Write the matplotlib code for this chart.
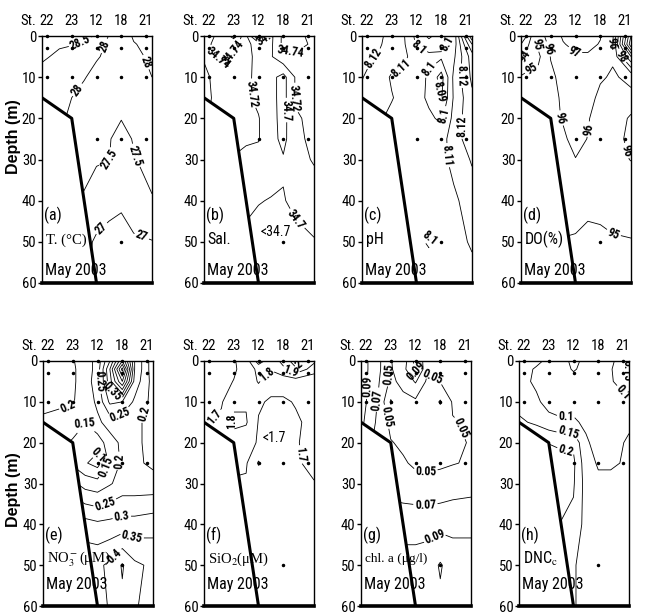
import numpy as np
import matplotlib
matplotlib.use('Agg')
from matplotlib import pyplot as plt
from matplotlib.patches import Polygon

plt.rcParams['font.family'] = ['Roboto Condensed', 'Liberation Sans', 'DejaVu Sans']
plt.rcParams['mathtext.fontset'] = 'stix'

stations = ['22', '23', '12', '18', '21']
station_x = [0, 1, 2, 3, 4]

# sampling points (station index, depth m)
sample_x = [0, 1, 2, 3, 4, 0, 1, 2, 3, 4, 0, 1, 2, 3, 4, 2, 3, 4, 3]
sample_depth = [0, 0, 0, 0, 0, 3, 3, 3, 3, 3, 10, 10, 10, 10, 10, 25, 25, 25, 50]

# sea bottom
bottom_x = [-0.2, 1, 2]
bottom_depth = [15, 20, 60]

# gridded fields
x_grid = [-0.2, 0.5, 1, 1.5, 2, 2.5, 3, 3.5, 4.24]
depth_grid = [0, 2, 5, 10, 15, 20, 25, 30, 40, 50, 60]

temp_grid = [
    [28.55, 28.6, 28.6, 28.56, 28.48, 27.98, 27.9, 28.02, 28.1],
    [28.56, 28.53, 28.52, 28.45, 28.1, 27.95, 27.9, 27.99, 28.05],
    [28.54, 28.45, 28.35, 28.2, 28.03, 27.93, 27.88, 27.96, 28.03],
    [28.4, 28.3, 28.2, 28.02, 27.9, 27.85, 27.82, 27.88, 28.0],
    [28.3, 28.15, 28.0, 27.9, 27.8, 27.75, 27.72, 27.75, 27.85],
    [28.2, 28.05, 27.95, 27.8, 27.65, 27.56, 27.51, 27.55, 27.7],
    [28.1, 27.95, 27.85, 27.7, 27.6, 27.52, 27.4, 27.52, 27.6],
    [28.0, 27.9, 27.75, 27.65, 27.56, 27.51, 27.3, 27.48, 27.6],
    [27.9, 27.7, 27.55, 27.45, 27.2, 27.1, 27.05, 27.3, 27.48],
    [27.8, 27.6, 27.4, 27.1, 26.95, 26.9, 26.88, 26.92, 26.98],
    [27.7, 27.5, 27.3, 27.05, 26.9, 26.85, 26.85, 26.88, 26.95],
]
sal_grid = [
    [34.725, 34.75, 34.765, 34.725, 34.655, 34.715, 34.745, 34.75, 34.73],
    [34.73, 34.755, 34.75, 34.725, 34.712, 34.716, 34.745, 34.75, 34.735],
    [34.722, 34.745, 34.735, 34.725, 34.715, 34.718, 34.735, 34.735, 34.728],
    [34.715, 34.73, 34.73, 34.724, 34.715, 34.706, 34.693, 34.722, 34.725],
    [34.714, 34.728, 34.728, 34.723, 34.716, 34.706, 34.693, 34.722, 34.725],
    [34.718, 34.725, 34.726, 34.723, 34.721, 34.707, 34.693, 34.718, 34.724],
    [34.716, 34.724, 34.724, 34.722, 34.721, 34.708, 34.694, 34.716, 34.724],
    [34.714, 34.721, 34.719, 34.716, 34.714, 34.71, 34.702, 34.712, 34.722],
    [34.71, 34.712, 34.71, 34.705, 34.701, 34.699, 34.699, 34.704, 34.708],
    [34.705, 34.703, 34.701, 34.695, 34.692, 34.69, 34.69, 34.695, 34.699],
    [34.702, 34.698, 34.695, 34.69, 34.688, 34.686, 34.686, 34.69, 34.698],
]
ph_grid = [
    [8.125, 8.121, 8.118, 8.1105, 8.097, 8.088, 8.095, 8.102, 8.17],
    [8.124, 8.121, 8.116, 8.111, 8.099, 8.094, 8.097, 8.104, 8.15],
    [8.122, 8.119, 8.114, 8.112, 8.105, 8.103, 8.102, 8.108, 8.135],
    [8.1205, 8.114, 8.109, 8.108, 8.106, 8.098, 8.086, 8.112, 8.132],
    [8.118, 8.111, 8.1105, 8.107, 8.104, 8.098, 8.089, 8.111, 8.128],
    [8.116, 8.111, 8.108, 8.106, 8.104, 8.102, 8.098, 8.113, 8.128],
    [8.106, 8.106, 8.106, 8.105, 8.104, 8.103, 8.106, 8.115, 8.126],
    [8.105, 8.105, 8.105, 8.104, 8.104, 8.105, 8.107, 8.113, 8.121],
    [8.104, 8.104, 8.104, 8.103, 8.103, 8.104, 8.106, 8.108, 8.115],
    [8.102, 8.102, 8.102, 8.102, 8.101, 8.0995, 8.103, 8.107, 8.111],
    [8.101, 8.101, 8.101, 8.101, 8.101, 8.103, 8.102, 8.104, 8.107],
]
do_grid = [
    [91.8, 95.5, 96.5, 97.1, 97.4, 97.3, 97.05, 95.8, 103.0],
    [93.0, 95.2, 96.3, 96.95, 97.2, 97.2, 96.95, 95.9, 103.8],
    [93.8, 94.8, 96.05, 96.6, 96.9, 96.9, 96.8, 96.1, 100.0],
    [95.1, 95.3, 95.8, 96.3, 96.5, 96.4, 96.1, 95.9, 96.2],
    [95.5, 95.6, 95.8, 96.1, 96.4, 96.3, 95.8, 95.7, 95.8],
    [95.6, 95.7, 95.8, 96.05, 96.3, 96.05, 95.7, 95.8, 96.05],
    [95.6, 95.7, 95.8, 95.9, 96.2, 95.98, 95.7, 95.85, 96.1],
    [95.6, 95.6, 95.7, 95.8, 95.98, 95.9, 95.7, 95.8, 96.02],
    [95.4, 95.4, 95.4, 95.4, 95.4, 95.2, 95.25, 95.4, 95.5],
    [95.05, 95.05, 95.02, 94.95, 94.9, 94.8, 94.82, 94.9, 94.95],
    [94.8, 94.8, 94.8, 94.7, 94.7, 94.7, 94.7, 94.75, 94.8],
]
no3_grid = [
    [0.24, 0.23, 0.205, 0.17, 0.22, 0.35, 0.55, 0.3, 0.17],
    [0.24, 0.23, 0.21, 0.17, 0.22, 0.4, 0.67, 0.3, 0.17],
    [0.23, 0.22, 0.21, 0.17, 0.23, 0.38, 0.55, 0.28, 0.18],
    [0.215, 0.21, 0.205, 0.17, 0.21, 0.31, 0.3, 0.24, 0.185],
    [0.19, 0.18, 0.17, 0.152, 0.19, 0.22, 0.22, 0.21, 0.185],
    [0.17, 0.16, 0.145, 0.12, 0.12, 0.18, 0.21, 0.21, 0.185],
    [0.155, 0.155, 0.14, 0.105, 0.08, 0.16, 0.21, 0.21, 0.19],
    [0.21, 0.21, 0.21, 0.18, 0.17, 0.195, 0.22, 0.22, 0.22],
    [0.34, 0.34, 0.33, 0.32, 0.31, 0.315, 0.32, 0.32, 0.33],
    [0.41, 0.41, 0.405, 0.39, 0.39, 0.41, 0.455, 0.41, 0.39],
    [0.38, 0.38, 0.38, 0.38, 0.38, 0.405, 0.44, 0.405, 0.38],
]
sio2_grid = [
    [1.66, 1.67, 1.69, 1.75, 1.95, 1.84, 1.93, 2.06, 1.92],
    [1.66, 1.67, 1.69, 1.73, 1.83, 1.81, 1.88, 1.98, 1.85],
    [1.67, 1.68, 1.702, 1.72, 1.81, 1.73, 1.73, 1.74, 1.72],
    [1.68, 1.69, 1.78, 1.79, 1.71, 1.69, 1.69, 1.705, 1.72],
    [1.69, 1.72, 1.82, 1.81, 1.695, 1.68, 1.68, 1.69, 1.72],
    [1.705, 1.71, 1.76, 1.74, 1.69, 1.67, 1.68, 1.695, 1.72],
    [1.705, 1.705, 1.72, 1.71, 1.59, 1.67, 1.68, 1.695, 1.71],
    [1.69, 1.69, 1.69, 1.69, 1.68, 1.68, 1.68, 1.69, 1.698],
    [1.68, 1.68, 1.68, 1.68, 1.68, 1.68, 1.68, 1.68, 1.68],
    [1.67, 1.67, 1.67, 1.67, 1.67, 1.67, 1.67, 1.67, 1.67],
    [1.67, 1.67, 1.67, 1.67, 1.67, 1.67, 1.67, 1.67, 1.67],
]
chla_grid = [
    [0.1, 0.075, 0.049, 0.06, 0.095, 0.052, 0.058, 0.056, 0.055],
    [0.1, 0.075, 0.048, 0.062, 0.098, 0.052, 0.056, 0.056, 0.055],
    [0.1, 0.072, 0.046, 0.055, 0.072, 0.045, 0.051, 0.055, 0.055],
    [0.1, 0.068, 0.028, 0.045, 0.046, 0.045, 0.028, 0.052, 0.054],
    [0.095, 0.065, 0.045, 0.044, 0.045, 0.044, 0.044, 0.049, 0.052],
    [0.088, 0.06, 0.051, 0.047, 0.046, 0.045, 0.045, 0.047, 0.051],
    [0.072, 0.06, 0.055, 0.052, 0.047, 0.046, 0.047, 0.049, 0.052],
    [0.065, 0.062, 0.06, 0.058, 0.056, 0.055, 0.057, 0.06, 0.062],
    [0.085, 0.085, 0.084, 0.083, 0.083, 0.083, 0.084, 0.085, 0.086],
    [0.1, 0.1, 0.098, 0.097, 0.097, 0.1, 0.112, 0.1, 0.098],
    [0.105, 0.105, 0.103, 0.1, 0.1, 0.102, 0.106, 0.103, 0.1],
]
dnc_grid = [
    [0.12, 0.11, 0.09, 0.065, 0.04, 0.06, 0.085, 0.09, 0.14],
    [0.12, 0.095, 0.08, 0.07, 0.045, 0.065, 0.09, 0.095, 0.16],
    [0.12, 0.09, 0.085, 0.08, 0.07, 0.08, 0.095, 0.095, 0.13],
    [0.13, 0.11, 0.08, 0.085, 0.09, 0.095, 0.08, 0.09, 0.095],
    [0.16, 0.14, 0.12, 0.105, 0.104, 0.095, 0.09, 0.09, 0.095],
    [0.22, 0.21, 0.198, 0.19, 0.19, 0.104, 0.09, 0.09, 0.104],
    [0.25, 0.24, 0.23, 0.22, 0.21, 0.12, 0.095, 0.095, 0.105],
    [0.26, 0.25, 0.23, 0.22, 0.205, 0.13, 0.11, 0.11, 0.12],
    [0.24, 0.22, 0.21, 0.198, 0.19, 0.13, 0.12, 0.12, 0.12],
    [0.22, 0.2, 0.19, 0.17, 0.155, 0.13, 0.12, 0.12, 0.12],
    [0.2, 0.18, 0.17, 0.16, 0.155, 0.13, 0.12, 0.12, 0.12],
]

panels = [
    dict(grid=temp_grid, levels=[27, 27.5, 28, 28.5], tag='(a)', name='T. (°C)', serif=True,
         labels=[(1.4, 2.3), (2.45, 2.7), (1.05, 12.3), (3.85, 6.7), (2.55, 30), (3.6, 29), (2.0, 45.5), (3.9, 47.5)]),
    dict(grid=sal_grid, levels=[34.66, 34.68, 34.7, 34.72, 34.74, 34.76], tag='(b)', name='Sal.', serif=False,
         labels=[(0.35, 5.5), (1.05, 4.5), (2.4, 0.8), (1.85, 14), (3.05, 18), (3.5, 15), (3.3, 3.5), (3.6, 44)],
         note=('<34.7', 2.1, 47.5)),
    dict(grid=ph_grid, levels=[8.09, 8.1, 8.11, 8.12, 8.13, 8.14, 8.15, 8.16], tag='(c)', name='pH', serif=False,
         labels=[(0.55, 6.3), (1.45, 8.5), (2.2, 1.5), (3.4, 2.3), (2.5, 8), (2.95, 13.5), (2.9, 19),
                 (3.1, 29), (3.7, 22), (3.95, 9.7), (2.6, 49)]),
    dict(grid=do_grid, levels=list(range(92, 105)), tag='(d)', name='DO(%)', serif=False,
         labels=[(0.3, 2.2), (0.15, 6), (0.35, 9.3), (1.0, 3), (2.0, 3.6), (3.4, 1.8), (3.8, 5),
                 (1.3, 20), (2.35, 22.5), (3.95, 28), (3.55, 47.5)]),
    dict(grid=no3_grid, levels=[0.1, 0.15, 0.2, 0.25, 0.3, 0.35, 0.4, 0.45, 0.5, 0.55, 0.6, 0.65],
         tag='(e)', name=r'NO$_3^-$(μM)', serif=True,
         labels=[(0.85, 11.8), (1.5, 15.3), (2.15, 5), (2.6, 7.5), (2.9, 12.4), (4.1, 13.3), (2.1, 23),
                 (2.35, 26), (2.85, 24.5), (2.3, 35), (3.0, 38.6), (3.45, 42), (2.75, 48)]),
    dict(grid=sio2_grid, levels=[1.6, 1.7, 1.8, 1.9, 2.0], tag='(f)', name=r'SiO$_2$(μM)', serif=True,
         labels=[(0.25, 13.8), (1.0, 14.8), (2.35, 3.5), (3.3, 2.7), (3.62, 1), (3.55, 23)],
         note=('<1.7', 2.15, 18.8)),
    dict(grid=chla_grid, levels=[0.03, 0.05, 0.07, 0.09, 0.11], tag='(g)', name='chl. a (μg/l)', serif=True,
         labels=[(0.05, 6.3), (0.35, 9.4), (0.7, 13.8), (1.0, 3.3), (2.0, 2.4), (2.8, 3), (3.1, 18),
                 (2.4, 27.5), (2.4, 35.5), (2.8, 43.2)]),
    dict(grid=dnc_grid, levels=[0.05, 0.1, 0.15, 0.2], tag='(h)', name=r'DNC$_\mathrm{c}$', serif=False,
         labels=[(1.7, 14.3), (1.8, 18.3), (1.7, 22), (3.7, 9.4), (4.0, 3)]),
]

fig = plt.figure(figsize=(6.53, 6.13), dpi=100)

lefts = [42, 204, 362, 521, 43, 204, 361, 519]
tops = [36, 36, 36, 36, 361, 361, 361, 361]
bots = [283, 283, 283, 283, 606, 606, 606, 606]
W, H = 653.0, 613.0

water = list(zip([x_grid[0], x_grid[-1], x_grid[-1]] + bottom_x[::-1],
                 [0, 0, 60] + bottom_depth[::-1]))

for i, p in enumerate(panels):
    ax = fig.add_axes([lefts[i] / W, 1 - bots[i] / H, 110 / W, (bots[i] - tops[i]) / H])
    ax.set_xlim(x_grid[0], x_grid[-1])
    ax.set_ylim(60, 0)

    cs = ax.contour(x_grid, depth_grid, np.array(p['grid']), levels=p['levels'],
                    colors='k', linewidths=0.6)
    clip = Polygon(water, closed=True, transform=ax.transData, facecolor='none', edgecolor='none')
    ax.add_patch(clip)
    cs.set_clip_path(clip)
    texts = ax.clabel(cs, manual=p['labels'], inline=True, inline_spacing=2, fmt='%g', fontsize=8.5)
    for t in texts:
        t.set_fontweight('bold')

    ax.plot(bottom_x, bottom_depth, color='k', lw=2.2, solid_capstyle='butt', zorder=4)
    ax.plot(sample_x, sample_depth, 'k.', ms=3, clip_on=False, zorder=5)

    # axes style
    for s in ['top', 'right', 'left']:
        ax.spines[s].set_linewidth(1.0)
    ax.spines['bottom'].set_linewidth(2.6)
    ax.set_yticks([0, 10, 20, 30, 40, 50, 60])
    ax.tick_params(axis='y', direction='out', length=3, width=1, labelsize=10.5, pad=1)
    ax.xaxis.tick_top()
    ax.set_xticks(station_x)
    ax.set_xticklabels(stations)
    ax.tick_params(axis='x', length=0, labelsize=10.5, pad=6)
    ax.annotate('St.', xy=(0, 1), xycoords=('data', 'axes fraction'), xytext=(-8, 6),
                textcoords='offset points', ha='right', va='bottom', fontsize=10.5)

    row_y = [43.5, 49.5, 57] if i < 4 else [42.8, 48.5, 54.8]
    ax.text(-0.12, row_y[0], p['tag'], fontsize=11.5, va='center', ha='left')
    if p['serif']:
        ax.text(-0.05, row_y[1], p['name'], fontsize=10.5 if i != 6 else 9.5, va='center', ha='left',
                family=['Liberation Serif', 'DejaVu Serif'])
    else:
        ax.text(-0.05, row_y[1], p['name'], fontsize=11.5, va='center', ha='left')
    ax.text(-0.08, row_y[2], 'May 2003', fontsize=11.5, va='center', ha='left')
    if 'note' in p:
        ax.text(p['note'][1], p['note'][2], p['note'][0], fontsize=10, va='center', ha='left')

for yc in [0.7765, 0.2007]:
    fig.text(0.02, yc, 'Depth (m)', rotation=90, fontsize=11.5, fontweight='bold',
             ha='center', va='center', family=['Liberation Sans', 'DejaVu Sans'])

fig.savefig('out.png', dpi=100)
